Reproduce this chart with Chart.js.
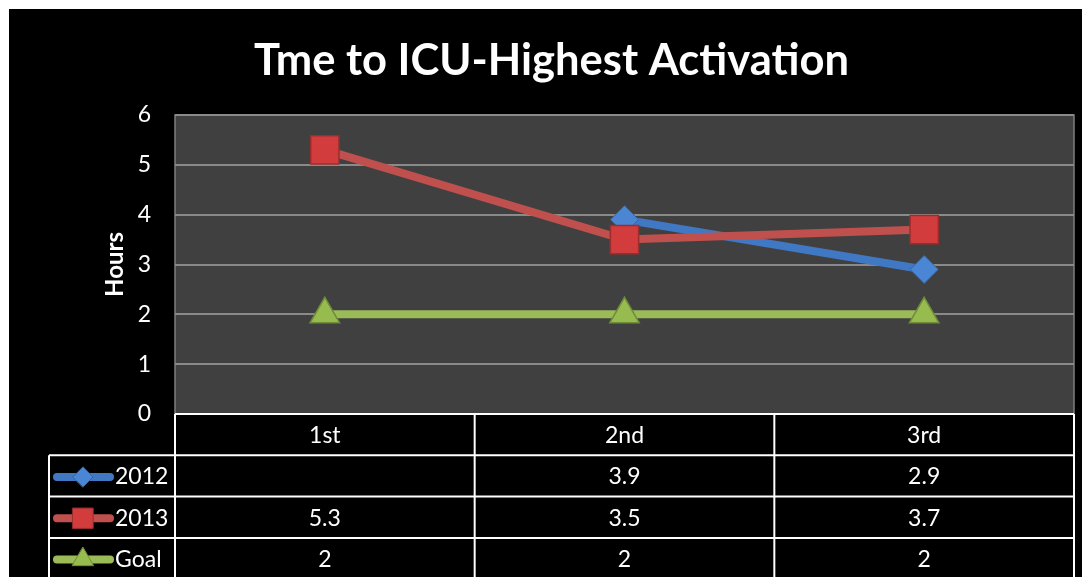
<!DOCTYPE html>
<html>
<head>
<meta charset="utf-8">
<script src="https://cdn.jsdelivr.net/npm/chart.js@4/dist/chart.umd.min.js"></script>
<style>
  body { margin: 0; background: #fff; }
  #wrap { position: absolute; left: 9px; top: 9px; width: 1073px; height: 568px; background: #000; overflow: hidden; }
</style>
</head>
<body>
<div id="wrap"><canvas id="icuChart" width="1073" height="568"></canvas></div>
<script>
// data
const categories = ['1st', '2nd', '3rd'];
const series2012 = [null, 3.9, 2.9];
const series2013 = [5.3, 3.5, 3.7];
const seriesGoal = [2, 2, 2];
const seriesNames = ['2012', '2013', 'Goal'];
const yTicks = [0, 1, 2, 3, 4, 5, 6];

Chart.defaults.font.family = 'Lato';

// dark plot area with grey frame
const plotBg = {
    id: 'plotBg',
    beforeDraw(chart) {
        const { ctx, chartArea: a } = chart;
        ctx.save();
        ctx.fillStyle = '#404040';
        ctx.fillRect(a.left, a.top, a.right - a.left, a.bottom - a.top);
        ctx.strokeStyle = '#7f7f7f';
        ctx.lineWidth = 1.5;
        ctx.strokeRect(a.left, a.top, a.right - a.left, a.bottom - a.top);
        ctx.restore();
    }
};

// data table under the x axis
const dataTable = {
    id: 'dataTable',
    afterDraw(chart) {
        const { ctx, chartArea: a, scales: { x } } = chart;
        const rowH = 41.3;
        const labelLeft = 40;
        const bottom = chart.height + 5;
        const colW = x.getPixelForValue(1) - x.getPixelForValue(0);
        ctx.save();
        ctx.strokeStyle = '#ffffff';
        ctx.lineWidth = 2;
        ctx.beginPath();
        ctx.moveTo(a.left, a.bottom); ctx.lineTo(a.right, a.bottom);
        for (let r = 1; r <= 3; r++) {
            ctx.moveTo(labelLeft, a.bottom + r * rowH);
            ctx.lineTo(a.right, a.bottom + r * rowH);
        }
        ctx.moveTo(labelLeft, a.bottom + rowH); ctx.lineTo(labelLeft, bottom);
        for (let i = 0; i <= categories.length; i++) {
            const xx = i < categories.length ? x.getPixelForValue(i) - colW / 2 : a.right;
            ctx.moveTo(xx, a.bottom); ctx.lineTo(xx, bottom);
        }
        ctx.stroke();

        ctx.fillStyle = '#ffffff';
        ctx.font = '23px Lato';
        ctx.textAlign = 'center';
        ctx.textBaseline = 'middle';
        categories.forEach((c, i) => {
            ctx.fillText(c, x.getPixelForValue(i), a.bottom + rowH / 2 + 1);
        });
        chart.data.datasets.forEach((ds, r) => {
            const cy = a.bottom + (r + 1) * rowH + rowH / 2 + 1;
            ds.data.forEach((v, i) => {
                if (v !== null) {
                    ctx.textAlign = 'center';
                    ctx.fillText(String(v), x.getPixelForValue(i), cy);
                }
            });
            // legend key
            ctx.strokeStyle = ds.borderColor;
            ctx.lineWidth = 8;
            ctx.lineCap = 'round';
            ctx.beginPath();
            ctx.moveTo(48, cy); ctx.lineTo(101, cy);
            ctx.stroke();
            ctx.fillStyle = ds.pointBackgroundColor;
            ctx.strokeStyle = ds.pointBorderColor;
            ctx.lineWidth = 1;
            Chart.helpers.drawPoint(ctx, {
                pointStyle: ds.pointStyle,
                radius: ds.pointRadius * 0.72,
                borderWidth: 1
            }, 74, cy);
            ctx.fillStyle = '#ffffff';
            ctx.textAlign = 'left';
            ctx.fillText(seriesNames[r], 106, cy);
        });
        ctx.restore();
    }
};

new Chart(document.getElementById('icuChart'), {
    type: 'line',
    data: {
        labels: categories,
        datasets: [{
            label: seriesNames[0],
            data: series2012,
            borderColor: '#4178c4',
            borderWidth: 8,
            pointStyle: 'rectRot',
            pointRadius: 14,
            pointBackgroundColor: '#4a86d4',
            pointBorderColor: '#3565a8',
            pointBorderWidth: 1,
            order: 2
        }, {
            label: seriesNames[1],
            data: series2013,
            borderColor: '#c0504d',
            borderWidth: 8,
            pointStyle: 'rect',
            pointRadius: 20,
            pointBackgroundColor: '#d23c3c',
            pointBorderColor: '#9a2e2e',
            pointBorderWidth: 1.5,
            order: 1
        }, {
            label: seriesNames[2],
            data: seriesGoal,
            borderColor: '#9bbb59',
            borderWidth: 8,
            pointStyle: 'triangle',
            pointRadius: 17,
            pointBackgroundColor: '#98bb50',
            pointBorderColor: '#6f8d38',
            pointBorderWidth: 1.5,
            order: 3
        }]
    },
    options: {
        responsive: false,
        animation: false,
        layout: { autoPadding: false, padding: { left: 20, right: 8, top: 0, bottom: 0 } },
        scales: {
            x: {
                offset: true,
                grid: { display: false },
                border: { display: false },
                ticks: { display: false },
                afterFit(scale) { scale.height = 163; }
            },
            y: {
                min: 0,
                max: 6,
                afterBuildTicks(scale) { scale.ticks = yTicks.map(v => ({ value: v })); },
                ticks: { color: '#ffffff', font: { size: 23 }, padding: 24 },
                grid: { color: '#8a8a8a', lineWidth: 2, drawTicks: false },
                border: { display: false },
                title: {
                    display: true,
                    text: 'Hours',
                    color: '#ffffff',
                    font: { size: 24, weight: 'bold' },
                    padding: { top: 72, bottom: 0 }
                },
                afterFit(scale) { scale.width = 146; }
            }
        },
        plugins: {
            legend: { display: false },
            tooltip: { enabled: false },
            title: {
                display: true,
                text: 'Tme to ICU-Highest Activation',
                color: '#ffffff',
                font: { size: 43.5, weight: 'bold' },
                padding: { top: 26, bottom: 27.8 }
            }
        }
    },
    plugins: [plotBg, dataTable]
});
</script>
</body>
</html>
